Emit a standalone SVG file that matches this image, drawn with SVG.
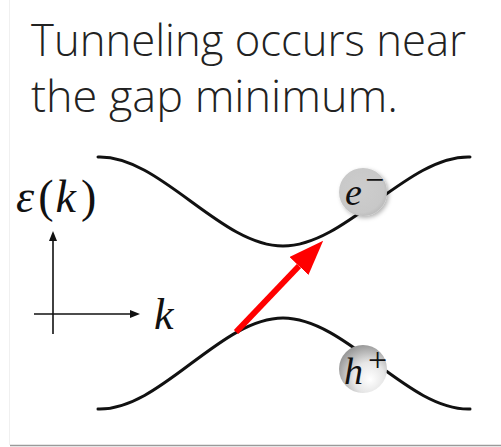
<svg xmlns="http://www.w3.org/2000/svg" width="501" height="447" viewBox="0 0 501 447">
<style>
.title{font-family:"Open Sans","Liberation Sans",sans-serif;font-weight:300;font-size:45px;fill:#222}
.math{font-family:"Liberation Serif","DejaVu Serif",serif;font-style:italic;fill:#111}
.up{font-style:normal}
.sup{font-family:"Liberation Serif","DejaVu Serif",serif;fill:#111}
.band{fill:none;stroke:#111;stroke-width:3;stroke-linecap:round}
.axis{fill:none;stroke:#111;stroke-width:1.6}
</style>
<defs>
<marker id="ah" viewBox="0 0 10 8" refX="0" refY="4" markerWidth="10" markerHeight="8" markerUnits="userSpaceOnUse" orient="auto">
<path d="M0,0 L10,4 L0,8 z" fill="#111"/>
</marker>
<marker id="red" viewBox="0 0 35 26" refX="0" refY="13" markerWidth="35" markerHeight="26" markerUnits="userSpaceOnUse" orient="auto">
<path d="M0,0 L35,13 L0,26 z" fill="#ff0000"/>
</marker>
<radialGradient id="gE" cx="0.45" cy="0.45" r="0.6">
<stop offset="0" stop-color="#cdcdcd"/>
<stop offset="0.8" stop-color="#c8c8c8"/>
<stop offset="1" stop-color="#b8b8b8"/>
</radialGradient>
<radialGradient id="gH" cx="0.6" cy="0.65" r="0.65" fx="0.65" fy="0.72">
<stop offset="0" stop-color="#ffffff"/>
<stop offset="0.5" stop-color="#e6e6e6"/>
<stop offset="1" stop-color="#9a9a9a"/>
</radialGradient>
<filter id="sh" x="-30%" y="-30%" width="170%" height="170%">
<feDropShadow dx="2" dy="2" stdDeviation="2" flood-color="#000" flood-opacity="0.3"/>
</filter>
</defs>
<rect width="501" height="447" fill="#ffffff"/>
<line x1="9.5" y1="0" x2="9.5" y2="445" stroke="#f0f0f0" stroke-width="1"/>
<line x1="10" y1="445.5" x2="501" y2="445.5" stroke="#9a9a9a" stroke-width="1.5"/>
<g id="title">
<text class="title" x="31" y="56" textLength="435" lengthAdjust="spacingAndGlyphs">Tunneling occurs near</text>
<text class="title" x="31" y="112" textLength="367" lengthAdjust="spacingAndGlyphs">the gap minimum.</text>
</g>
<g id="conduction-band">
<path class="band" d="M98,157 C160,155 220,246 283,246 C346,246 408,155 470,157"/>
</g>
<g id="valence-band">
<path class="band" d="M98,409 C160,411 220,318 283,318 C346,318 408,411 470,409"/>
</g>
<g id="axes">
<line class="axis" x1="53" y1="334" x2="53" y2="241" marker-end="url(#ah)"/>
<line class="axis" x1="34" y1="314" x2="130" y2="314" marker-end="url(#ah)"/>
<text class="math" x="16" y="212" font-size="46">ε<tspan class="up" dx="4">(</tspan><tspan dx="2">k</tspan><tspan class="up" dx="5">)</tspan></text>
<text class="math" x="154" y="329" font-size="44">k</text>
</g>
<g id="connectors">
<line x1="236" y1="332" x2="299" y2="266" stroke="#ff0000" stroke-width="6" marker-end="url(#red)"/>
</g>
<g id="electron">
<circle cx="363" cy="192" r="24" fill="url(#gE)" filter="url(#sh)"/>
<text class="math" x="345" y="205" font-size="38">e</text>
<text class="sup" x="365" y="191" font-size="34">−</text>
</g>
<g id="hole">
<circle cx="363" cy="369" r="24" fill="url(#gH)"/>
<text class="math" x="344" y="384" font-size="38">h</text>
<text class="sup" x="368" y="371" font-size="34">+</text>
</g>
</svg>
